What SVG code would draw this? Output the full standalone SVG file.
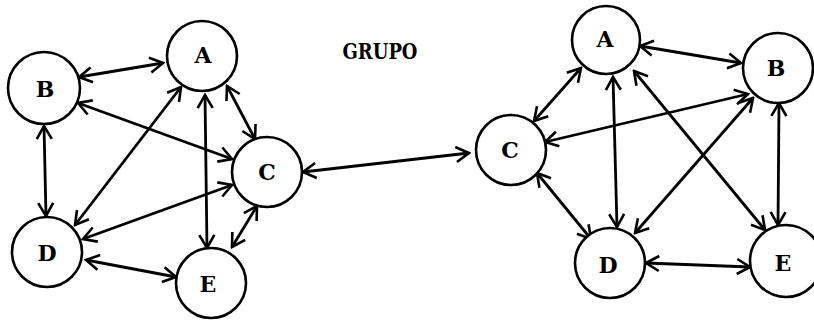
<svg xmlns="http://www.w3.org/2000/svg" width="814" height="320" viewBox="0 0 814 320">
  <style>
    .node circle { fill: #fff; stroke: #000; stroke-width: 2.6; }
    .lbl { font-family: 'DejaVu Serif', 'Liberation Serif', serif; font-weight: 700; font-size: 22px; fill: #000; text-anchor: middle; }
    .edges line { stroke: #000; stroke-width: 2.8; fill: none; marker-start: url(#tip); marker-end: url(#tip); }
  </style>
  <defs>
    <marker id="tip" viewBox="-2 -10 17 20" refX="13" refY="0" markerWidth="17" markerHeight="20" markerUnits="userSpaceOnUse" orient="auto-start-reverse">
      <path d="M0,-7.5 L13,0 L0,7.5" fill="none" stroke="#000" stroke-width="2.6" stroke-linejoin="miter"/>
    </marker>
  </defs>
  <rect width="814" height="320" fill="#fff"/>

  <text class="lbl" x="380" y="59" font-size="21" textLength="75" lengthAdjust="spacingAndGlyphs">GRUPO</text>

  <g class="edges">
    <!-- left group -->
    <line x1="79" y1="77" x2="163" y2="63"/>
    <line x1="78" y1="103" x2="232" y2="159"/>
    <line x1="44" y1="126" x2="46" y2="216"/>
    <line x1="75" y1="225" x2="181" y2="87"/>
    <line x1="205" y1="95" x2="207" y2="248"/>
    <line x1="227" y1="86" x2="255" y2="139"/>
    <line x1="83" y1="239" x2="232" y2="185"/>
    <line x1="257" y1="206" x2="232" y2="247"/>
    <line x1="86" y1="260" x2="176" y2="277"/>
    <!-- between the two groups -->
    <line x1="303" y1="172" x2="469" y2="153"/>
    <!-- right group -->
    <line x1="640" y1="46" x2="741" y2="63"/>
    <line x1="581" y1="68" x2="534" y2="121"/>
    <line x1="545" y1="142" x2="748" y2="94"/>
    <line x1="613" y1="77" x2="617" y2="227"/>
    <line x1="634" y1="71" x2="765" y2="230"/>
    <line x1="753" y1="98" x2="635" y2="233"/>
    <line x1="779" y1="103" x2="778" y2="225"/>
    <line x1="537" y1="173" x2="591" y2="239"/>
    <line x1="646" y1="263" x2="750" y2="267"/>
  </g>

  <!-- left group nodes -->
  <g id="left-A" class="node"><circle cx="202" cy="56" r="35"/><text class="lbl" x="203" y="63">A</text></g>
  <g id="left-B" class="node"><circle cx="44" cy="88" r="36"/><text class="lbl" x="45" y="97">B</text></g>
  <g id="left-C" class="node"><circle cx="267" cy="172" r="35"/><text class="lbl" x="267" y="180">C</text></g>
  <g id="left-D" class="node"><circle cx="47" cy="252" r="35"/><text class="lbl" x="47" y="261">D</text></g>
  <g id="left-E" class="node"><circle cx="211" cy="283" r="35"/><text class="lbl" x="208" y="292">E</text></g>

  <!-- right group nodes -->
  <g id="right-A" class="node"><circle cx="606" cy="40" r="34"/><text class="lbl" x="605" y="47">A</text></g>
  <g id="right-B" class="node"><circle cx="778" cy="68" r="35"/><text class="lbl" x="776" y="76">B</text></g>
  <g id="right-C" class="node"><circle cx="511" cy="150" r="35"/><text class="lbl" x="510" y="158">C</text></g>
  <g id="right-D" class="node"><circle cx="610" cy="263" r="35"/><text class="lbl" x="608" y="273">D</text></g>
  <g id="right-E" class="node"><circle cx="786" cy="261" r="36"/><text class="lbl" x="783" y="271">E</text></g>
</svg>
